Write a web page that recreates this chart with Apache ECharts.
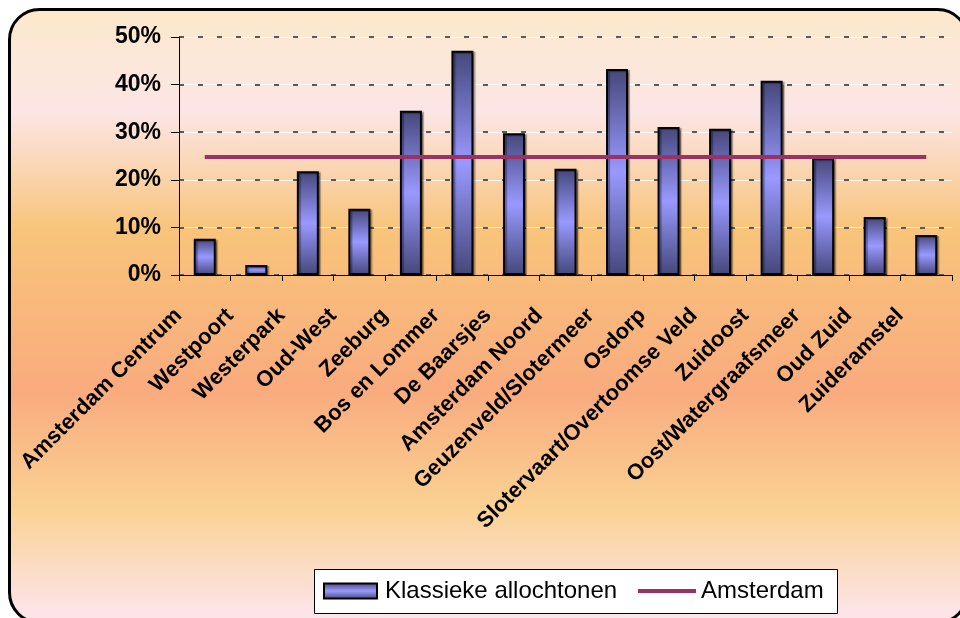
<!DOCTYPE html>
<html>
<head>
<meta charset="utf-8">
<script src="https://cdn.jsdelivr.net/npm/echarts@6/dist/echarts.min.js"></script>
<style>
html,body{margin:0;padding:0;background:#fff;}
#chart{width:960px;height:618px;}
</style>
</head>
<body>
<div id="chart"></div>
<script>
var categories = ['Amsterdam Centrum','Westpoort','Westerpark','Oud-West','Zeeburg','Bos en Lommer','De Baarsjes','Amsterdam Noord','Geuzenveld/Slotermeer','Osdorp','Slotervaart/Overtoomse Veld','Zuidoost','Oost/Watergraafsmeer','Oud Zuid','Zuideramstel'];
var allochtonen = [7.6, 2.1, 21.8, 13.9, 34.5, 47.1, 29.8, 22.3, 43.3, 31.1, 30.7, 40.8, 24.6, 12.2, 8.4];
var amsterdam = [24.8, 24.8, 24.8, 24.8, 24.8, 24.8, 24.8, 24.8, 24.8, 24.8, 24.8, 24.8, 24.8, 24.8, 24.8];
var yTicks = [0, 10, 20, 30, 40, 50];

var FONT = "'Liberation Sans', Arial, sans-serif";
var chart = echarts.init(document.getElementById('chart'));
var barGrad = new echarts.graphic.LinearGradient(0, 0, 0, 1, [
  {offset: 0, color: '#45477A'},
  {offset: 0.5, color: '#9999FF'},
  {offset: 1, color: '#45477A'}
]);
var legendText = {color: '#000', fontSize: 24, fontFamily: FONT};
chart.setOption({
  animation: false,
  textStyle: {fontFamily: FONT},
  graphic: [{
    type: 'rect',
    z: -100,
    silent: true,
    shape: {x: 9.5, y: 9.5, width: 958, height: 613, r: 30},
    style: {
      fill: new echarts.graphic.LinearGradient(0, 0, 0, 1, [
        {offset: 0, color: '#FBE9CB'},
        {offset: 0.17, color: '#FCE5E5'},
        {offset: 0.36, color: '#F8C47A'},
        {offset: 0.62, color: '#F9AB7E'},
        {offset: 0.81, color: '#FAD192'},
        {offset: 0.98, color: '#FDE4E8'}
      ]),
      stroke: '#000',
      lineWidth: 3
    }
  }, {
    type: 'rect',
    z: -50,
    silent: true,
    shape: {x: 314.5, y: 569.5, width: 523, height: 44},
    style: {fill: '#fff', stroke: '#000', lineWidth: 1}
  }],
  grid: {left: 179, right: 8, top: 37, bottom: 343, containLabel: false},
  legend: [{
    left: 323, top: 579, padding: 0,
    itemWidth: 53, itemHeight: 15,
    textStyle: Object.assign({padding: [0, 0, 0, 3]}, legendText),
    data: [{name: 'Klassieke allochtonen', icon: 'rect'}]
  }, {
    left: 638, top: 579, padding: 0,
    itemWidth: 58, itemHeight: 15,
    textStyle: legendText,
    data: [{name: 'Amsterdam', icon: 'path://M0,0H58V4H0Z'}]
  }],
  xAxis: {
    type: 'category',
    data: categories,
    axisLine: {lineStyle: {color: '#000', width: 1}},
    axisTick: {show: true, length: 6, lineStyle: {color: '#000'}},
    axisLabel: {
      interval: 0, rotate: 45, margin: 11,
      padding: [0, 37, 0, 0],
      fontSize: 22, fontWeight: 'bold', color: '#000', fontFamily: FONT
    },
    splitLine: {show: false}
  },
  yAxis: [{
    type: 'value', min: yTicks[0], max: yTicks[yTicks.length - 1], interval: 10,
    axisLine: {show: true, lineStyle: {color: '#000', width: 1}},
    axisTick: {show: true, length: 8, lineStyle: {color: '#000'}},
    axisLabel: {formatter: '{value}%', fontSize: 23, fontWeight: 'bold', color: '#000', margin: 18, fontFamily: FONT},
    splitLine: {show: true, lineStyle: {color: 'rgba(255,255,255,0.8)', width: 1, type: 'solid'}}
  }, {
    type: 'value', min: yTicks[0], max: yTicks[yTicks.length - 1], interval: 10,
    position: 'left',
    axisLine: {show: false}, axisTick: {show: false}, axisLabel: {show: false},
    splitLine: {show: true, lineStyle: {color: '#5a5a5a', width: 2, type: [5, 14]}}
  }],
  series: [{
    name: 'Klassieke allochtonen',
    type: 'bar',
    data: allochtonen,
    barWidth: 22,
    itemStyle: {
      color: barGrad, borderColor: '#000', borderWidth: 2,
      shadowColor: 'rgba(0,0,0,0.35)', shadowOffsetX: 2, shadowOffsetY: 1, shadowBlur: 1
    },
    z: 2
  }, {
    name: 'Amsterdam',
    type: 'line',
    data: amsterdam,
    symbol: 'none',
    showSymbol: false,
    lineStyle: {color: '#993366', width: 4},
    itemStyle: {color: '#993366'},
    z: 3
  }]
});
</script>
</body>
</html>
